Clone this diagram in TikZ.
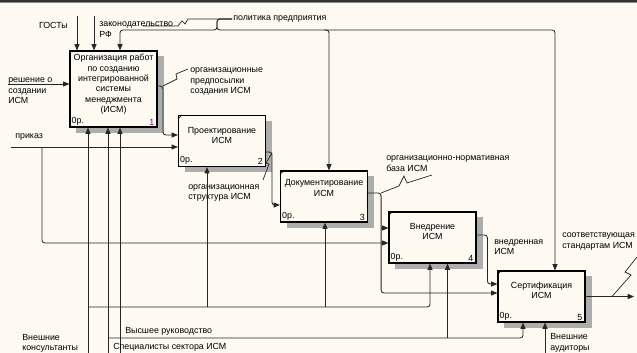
\documentclass[tikz,border=0pt]{standalone}
\usepackage{fontspec}
\setmainfont{Liberation Sans}
\usetikzlibrary{arrows.meta,calc}
\definecolor{paper}{RGB}{255,250,241}
\definecolor{numpurple}{RGB}{128,0,128}

\begin{document}
\begin{tikzpicture}[x=0.025cm,y=-0.025cm,
    every node/.style={font=\fontsize{6.3}{7.4}\selectfont, inner sep=0pt},
    func/.style={draw, line width=0.8pt, fill=paper, minimum width=2.175cm, minimum height=1.275cm},
    shade/.style={fill=black!32},
    arr/.style={draw=black!85, line width=0.6pt, rounded corners=2pt, -{Triangle[length=4.5pt,width=3.6pt]}},
    squig/.style={draw=black!85, line width=0.5pt},
    lbl/.style={align=left, anchor=north west},
    boxtext/.style={align=center, anchor=north}]
  \useasboundingbox (0,0) rectangle (637,353);
  \clip (0,0) rectangle (637,353);
  \fill[paper] (0,0) rectangle (637,353);
  % Top border
  \fill[black!80] (0,0) rectangle (637,2.5);
  \fill[black!45] (0,2.5) rectangle (637,3.5);

  % Function boxes
  \node[func, minimum height=1.9cm] (b1) at (113.5,89) {};
  \node[func] (b2) at (222,141) {};
  \node[func] (b3) at (324,196.5) {};
  \node[func] (b4) at (432.5,237.5) {};
  \node[func] (b5) at (541.5,296.5) {};

  % Shadows
  \fill[shade] ($(b1.north east)+(0.4,6)$) rectangle ($(b1.south east)+(6,5)$);
  \fill[shade] ($(b1.south west)+(7,0.4)$) rectangle ($(b1.south east)+(6,5)$);
  \fill[shade] ($(b2.north east)+(0.4,6)$) rectangle ($(b2.south east)+(6,5)$);
  \fill[shade] ($(b2.south west)+(7,0.4)$) rectangle ($(b2.south east)+(6,5)$);
  \fill[shade] ($(b3.north east)+(0.4,6)$) rectangle ($(b3.south east)+(6,5)$);
  \fill[shade] ($(b3.south west)+(7,0.4)$) rectangle ($(b3.south east)+(6,5)$);
  \fill[shade] ($(b4.north east)+(0.4,6)$) rectangle ($(b4.south east)+(6,5)$);
  \fill[shade] ($(b4.south west)+(7,0.4)$) rectangle ($(b4.south east)+(6,5)$);
  \fill[shade] ($(b5.north east)+(0.4,6)$) rectangle ($(b5.south east)+(6,5)$);
  \fill[shade] ($(b5.south west)+(7,0.4)$) rectangle ($(b5.south east)+(6,5)$);

  % Corner ticks
  \draw ($(b2.north west)+(0,4)$) -- ($(b2.north west)+(4,0)$);
  \draw ($(b3.north west)+(0,4)$) -- ($(b3.north west)+(4,0)$);
  \draw ($(b4.north west)+(0,4)$) -- ($(b4.north west)+(4,0)$);
  \draw ($(b5.north west)+(0,4)$) -- ($(b5.north west)+(4,0)$);

  % Box texts
  \node[boxtext] at ($(b1.north)+(0,3.5)$) {Организация работ\\по созданию\\интегрированной\\системы\\менеджмента\\(ИСМ)};
  \node[boxtext] at ($(b2.north)+(0,12)$) {Проектирование\\ИСМ};
  \node[boxtext] at ($(b3.north)+(0,9)$) {Документирование\\ИСМ};
  \node[boxtext] at ($(b4.north)+(0,11.5)$) {Внедрение\\ИСМ};
  \node[boxtext] at ($(b5.north)+(0,11)$) {Сертификация\\ИСМ};
  \node[anchor=south west] at ($(b1.south west)+(2,-2)$) {0р.};
  \node[anchor=south east, text=numpurple] at ($(b1.south east)+(-3,-2)$) {1};
  \node[anchor=south west] at ($(b2.south west)+(2,-2)$) {0р.};
  \node[anchor=south east] at ($(b2.south east)+(-3,-2)$) {2};
  \node[anchor=south west] at ($(b3.south west)+(2,-2)$) {0р.};
  \node[anchor=south east] at ($(b3.south east)+(-3,-2)$) {3};
  \node[anchor=south west] at ($(b4.south west)+(2,-2)$) {0р.};
  \node[anchor=south east] at ($(b4.south east)+(-3,-2)$) {4};
  \node[anchor=south west] at ($(b5.south west)+(2,-2)$) {0р.};
  \node[anchor=south east] at ($(b5.south east)+(-3,-2)$) {5};

  % Controls of box 1
  \coordinate (gost) at (77,16);
  \coordinate (zak) at (94,16);
  \draw[arr] (gost) -- (gost |- b1.north);
  \draw[arr] (zak) -- (zak |- b1.north);
  \node[anchor=north east] at (68,21.8) {ГОСТы};
  \node[lbl] at (99,21.7) {законодательство\\РФ};

  % Policy
  \coordinate (pol) at (232,19);
  \coordinate (pbus) at (217,30);
  \coordinate (p1) at (120,30);
  \coordinate (p3) at (329,30);
  \coordinate (p5) at (555,30);
  \draw[arr] (pol) -| (pbus) -- (p1) -- (p1 |- b1.north);
  \draw[arr] (pol) -| (pbus) -- (p5) -- (p5 |- b5.north);
  \draw[arr] ($(p3)+(-5,0)$) -- (p3) -- (p3 |- b3.north);
  \draw[squig] (143,26) -- (178,26) -- (182,21) -- (185,24) -- (188,19) -- (pol);
  \node[lbl] at (233,15.7) {политика предприятия};

  % Input of box 1
  \coordinate (rsh) at (8,84);
  \draw[arr] (rsh) -- (rsh -| b1.west);
  \node[lbl] at (8,77.7) {решение о\\создании\\ИСМ};

  % Box 1 to box 2
  \draw[arr] ($(b1.east)+(0,-3)$) -| ($(b2.west)+(-15,-6)$) -- ($(b2.west)+(0,-6)$);
  \draw[squig] (188,69) -- (176,74) -- (177,79) -- (163,86);
  \node[lbl] at (190,67.7) {организационные\\предпосылки\\создания ИСМ};

  % Order
  \coordinate (prk) at (11,147);
  \coordinate (prkj) at (42,147);
  \coordinate (in4b) at ($(b4.west)+(0,5.5)$);
  \draw[arr] (prk) -- (prk -| b2.west);
  \draw[arr] (prkj) |- (in4b);
  \node[lbl] at (15,133.7) {приказ};

  % Box 2 to box 3
  \draw[arr] ($(b2.east)+(0,11)$) -| ($(b3.west)+(-8,8.5)$) -- ($(b3.west)+(0,8.5)$);
  \draw[squig] (263,180) -- (269,164) -- (266,163) -- (272,153);
  \node[lbl] at (188,184.4) {организационная\\структура ИСМ};

  % Box 3 to boxes 4 and 5
  \coordinate (o3) at ($(b3.east)+(13,-3.5)$);
  \coordinate (in4a) at ($(b4.west)+(0,-9.5)$);
  \coordinate (in5b) at ($(b5.west)+(0,-3.5)$);
  \draw[arr] ($(b3.east)+(0,-3.5)$) -- (o3) |- (in5b);
  \draw[arr] (o3 |- in4a) -- (in4a);
  \draw[squig] (432,175) -- (407,183) -- (404,176) -- (399,186) -- (381,193);
  \node[lbl] at (386,155.7) {организационно-нормативная\\база ИСМ};

  % Box 4 to box 5
  \coordinate (in5a) at ($(b5.west)+(0,-12.5)$);
  \draw[arr] ($(b4.east)+(0,-2.5)$) -| ($(in5a)+(-10,0)$) -- (in5a);
  \node[lbl] at (494,239.4) {внедренная\\ИСМ};

  % Output of box 5
  \coordinate (out5) at (634,296.5);
  \draw[arr] (b5.east) -- (out5);
  \draw[squig] (637,257) -- (625,272) -- (631,275) -- (612,296.5);
  \node[lbl] at (562,232.7) {соответствующая\\стандартам ИСМ};

  % Mechanisms
  \coordinate (m1) at (88,356);
  \coordinate (m2) at (108,356);
  \coordinate (m3) at (120,356);
  \coordinate (m4) at (545,356);
  \coordinate (bus1) at (88,307);
  \coordinate (bus2) at (108,338);
  \coordinate (k2) at ($(b2.south)+(-15,0)$);
  \coordinate (k3) at ($(b3.south)+(1,0)$);
  \coordinate (k4) at ($(b4.south)+(-2.5,0)$);
  \coordinate (s4) at ($(b4.south)+(15,0)$);
  \coordinate (s5) at ($(b5.south)+(-18.5,0)$);
  \draw[arr] (m1) -- (m1 |- b1.south);
  \draw[arr] (m2) -- (m2 |- b1.south);
  \draw[arr] (m3) -- (m3 |- b1.south);
  \draw[arr] (m4) -- (m4 |- b5.south);
  \draw[arr] (bus1) -| (k4);
  \draw[arr] (k2 |- bus1) -- (k2);
  \draw[arr] (k3 |- bus1) -- (k3);
  \draw[arr] (bus2) -| (s5);
  \draw[arr] (s4 |- bus2) -- (s4);
  \node[lbl] at (125,326.8) {Высшее руководство};
  \node[lbl] at (113,343.5) {Специалисты сектора ИСМ};
  \node[lbl] at (22,333.8) {Внешние\\консультанты};
  \node[lbl] at (550,333.5) {Внешние\\аудиторы};
\end{tikzpicture}
\end{document}
